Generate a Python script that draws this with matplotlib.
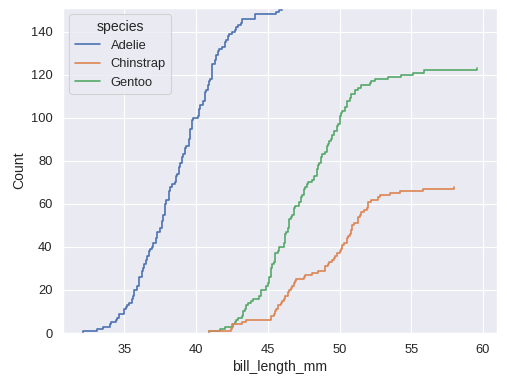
import matplotlib
matplotlib.use("Agg")
import matplotlib.pyplot as plt
import seaborn as sns
import numpy as np
import pandas as pd

# bill lengths (mm) per species
adelie = [39.1, 39.5, 40.3, np.nan, 36.7, 39.3, 38.9, 39.2, 34.1, 42.0, 37.8, 37.8, 41.1, 38.6, 34.6,
          36.6, 38.7, 42.5, 34.4, 46.0, 37.8, 37.7, 35.9, 38.2, 38.8, 35.3, 40.6, 40.5, 37.9, 40.5,
          39.5, 37.2, 39.5, 40.9, 36.4, 39.2, 38.8, 42.2, 37.6, 39.8, 36.5, 40.8, 36.0, 44.1, 37.0,
          39.6, 41.1, 37.5, 36.0, 42.3, 39.6, 40.1, 35.0, 42.0, 34.5, 41.4, 39.0, 40.6, 36.5, 37.6,
          35.7, 41.3, 37.6, 41.1, 36.4, 41.6, 35.5, 41.1, 35.9, 41.8, 33.5, 39.7, 39.6, 45.8, 35.5,
          42.8, 40.9, 37.2, 36.2, 42.1, 34.6, 42.9, 36.7, 35.1, 37.3, 41.3, 36.3, 36.9, 38.3, 38.9,
          35.7, 41.1, 34.0, 39.6, 36.2, 40.8, 38.1, 40.3, 33.1, 43.2, 35.0, 41.0, 37.7, 37.8, 37.9,
          39.7, 38.6, 38.2, 38.1, 43.2, 38.1, 45.6, 39.7, 42.2, 39.6, 42.7, 38.6, 37.3, 35.7, 41.1,
          36.2, 37.7, 40.2, 41.4, 35.2, 40.6, 38.8, 41.5, 39.0, 44.1, 38.5, 43.1, 36.8, 37.5, 38.1,
          41.1, 35.6, 40.2, 37.0, 39.7, 40.2, 40.6, 32.1, 40.7, 37.3, 39.0, 39.2, 36.6, 36.0, 37.8,
          36.0, 41.5]
chinstrap = [46.5, 50.0, 51.3, 45.4, 52.7, 45.2, 46.1, 51.3, 46.0, 51.3, 46.6, 51.7, 47.0, 52.0,
             45.9, 50.5, 50.3, 58.0, 46.4, 49.2, 42.4, 48.5, 43.2, 50.6, 46.7, 52.0, 50.5, 49.5,
             46.4, 52.8, 40.9, 54.2, 42.5, 51.0, 49.7, 47.5, 47.6, 52.0, 46.9, 53.5, 49.0, 46.2,
             50.9, 45.5, 50.9, 50.8, 50.1, 49.0, 51.5, 49.8, 48.1, 51.4, 45.7, 50.7, 42.5, 52.2,
             45.2, 49.3, 50.2, 45.6, 51.9, 46.8, 45.7, 55.8, 43.5, 49.6, 50.8, 50.2]
gentoo = [46.1, 50.0, 48.7, 50.0, 47.6, 46.5, 45.4, 46.7, 43.3, 46.8, 40.9, 49.0, 45.5, 48.4, 45.8,
          49.3, 42.0, 49.2, 46.2, 48.7, 50.2, 45.1, 46.5, 46.3, 42.9, 46.1, 44.5, 47.8, 48.2, 50.0,
          47.3, 42.8, 45.1, 59.6, 49.1, 48.4, 42.6, 44.4, 44.0, 48.7, 42.7, 49.6, 45.3, 49.6, 50.5,
          43.6, 45.5, 50.5, 44.9, 45.2, 46.6, 48.5, 45.1, 50.1, 46.5, 45.0, 43.8, 45.5, 43.2, 50.4,
          45.3, 46.2, 45.7, 54.3, 45.8, 49.8, 46.2, 49.5, 43.5, 50.7, 47.7, 46.4, 48.2, 46.5, 46.4,
          48.6, 47.5, 51.1, 45.2, 45.2, 49.1, 52.5, 47.4, 50.0, 44.9, 50.8, 43.4, 51.3, 47.5, 52.1,
          47.5, 52.2, 45.5, 49.5, 44.5, 50.8, 49.4, 46.9, 48.4, 51.1, 48.5, 55.9, 47.2, 49.1, 47.3,
          46.8, 41.7, 53.4, 43.3, 48.1, 50.5, 49.8, 43.5, 51.5, 46.2, 55.1, 44.5, 48.8, 47.2, np.nan,
          46.8, 50.4, 45.2, 49.9]

species_names = ["Adelie", "Chinstrap", "Gentoo"]

df = pd.DataFrame({
    "bill_length_mm": adelie + chinstrap + gentoo,
    "species": (["Adelie"] * len(adelie) + ["Chinstrap"] * len(chinstrap)
                + ["Gentoo"] * len(gentoo)),
})

sns.set_theme(font_scale=1.05)
plt.rcParams["font.family"] = ["Liberation Sans", "DejaVu Sans"]
fig = plt.figure(figsize=(507 / 80, 385 / 80), dpi=80)
ax = fig.add_axes([63 / 507, 52 / 385, 434 / 507, 325 / 385])

sns.ecdfplot(data=df, x="bill_length_mm", hue="species", hue_order=species_names,
             stat="count", ax=ax)

fig.savefig("out.png", dpi=80)
